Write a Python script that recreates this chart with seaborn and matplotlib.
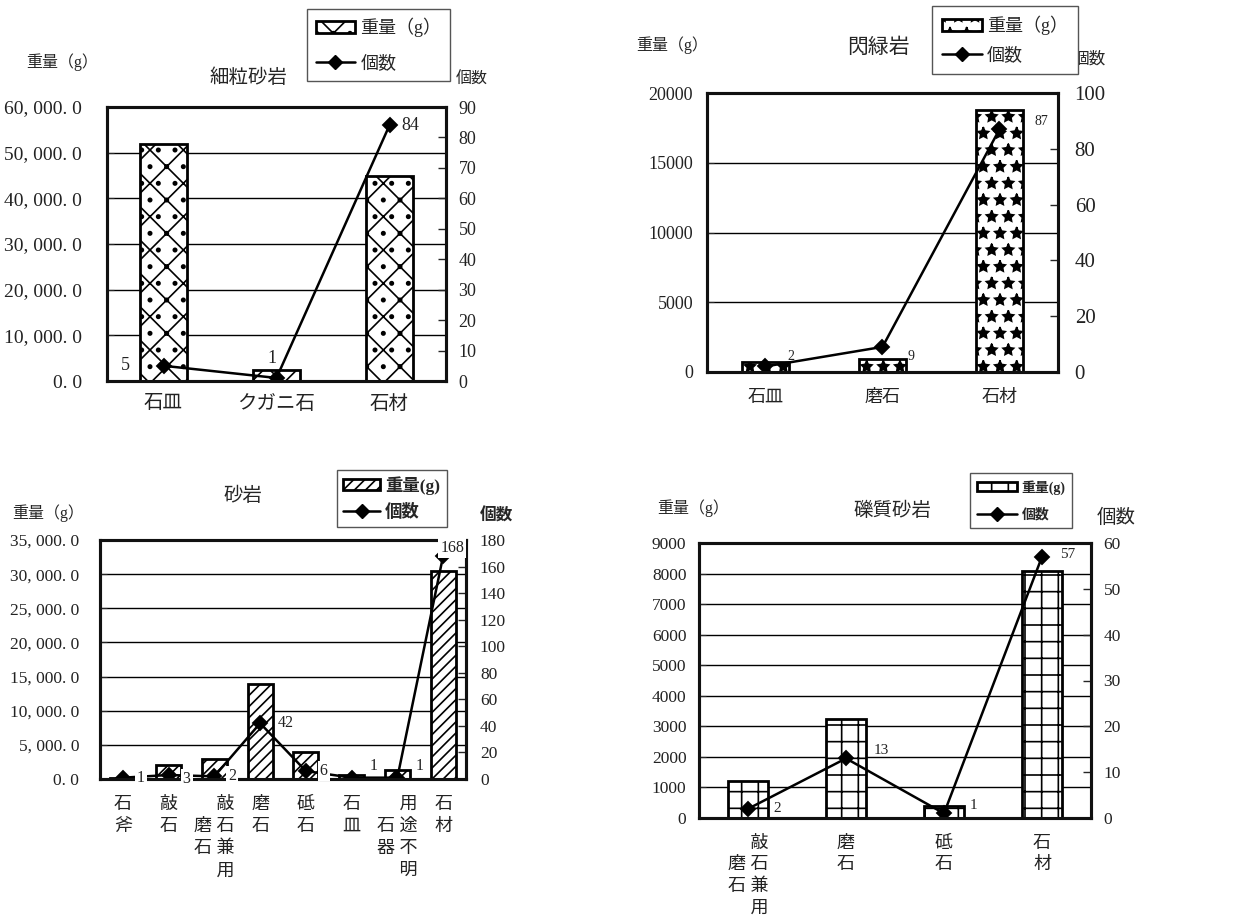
import numpy as np
import matplotlib
matplotlib.use("Agg")
import matplotlib.pyplot as plt
import seaborn as sns
from matplotlib.patches import Patch
from matplotlib.lines import Line2D
from matplotlib.ticker import FuncFormatter, MultipleLocator

sns.set_style("white")
plt.rcParams['font.family'] = ['Liberation Serif', 'Noto Sans CJK JP']
plt.rcParams['hatch.linewidth'] = 1.2

W, H = 1241, 919

# 細粒砂岩
fine_cats = ["石皿", "クガニ石", "石材"]
fine_ticks = ["石皿", "クガニ石", "石材"]
fine_weight = [52000, 2500, 45000]
fine_count = [5, 1, 84]

# 閃緑岩
dio_cats = ["石皿", "磨石", "石材"]
dio_ticks = ["石皿", "磨石", "石材"]
dio_weight = [750, 950, 18800]
dio_count = [2, 9, 87]

# 砂岩
sand_cats = ["石斧", "敲石", "敲石兼用磨石", "磨石", "砥石", "石皿", "用途不明石器", "石材"]
sand_ticks = ["石\n斧", "敲\n石", "　 敲\n磨 石\n石 兼\n　 用", "磨\n石", "砥\n石",
              "石\n皿", "　 用\n石 途\n器 不\n　 明", "石\n材"]
sand_weight = [150, 2100, 2900, 13900, 3900, 600, 1300, 30500]
sand_count = [1, 3, 2, 42, 6, 1, 1, 168]

# 礫質砂岩
peb_cats = ["敲石兼用磨石", "磨石", "砥石", "石材"]
peb_ticks = ["　 敲\n磨 石\n石 兼\n　 用", "磨\n石", "砥\n石", "石\n材"]
peb_weight = [1200, 3230, 380, 8100]
peb_count = [2, 13, 1, 57]

fig = plt.figure(figsize=(W / 100, H / 100), dpi=100)


def box(l, t, r, b):
    return [l / W, 1 - b / H, (r - l) / W, (b - t) / H]


def ftext(x, y, s, **kw):
    fig.text(x / W, 1 - y / H, s, ha="center", va="center", **kw)


def jp_fmt(v, pos):
    return f"{v:,.1f}".replace(",", ", ").replace(".", ". ")


def panel(rect, cats, ticks, weight, count, hatch, width, ymax, ystep, cmax, cstep,
          yfmt, lfs, rfs, xfs, lpad, rpad, xpad, offsets, lab_fs, lab_box=False, xls=1.15):
    ax = fig.add_axes(rect)
    sns.barplot(x=cats, y=weight, ax=ax, color="white", edgecolor="black",
                linewidth=2, width=width, zorder=3, saturation=1)
    for p in ax.patches:
        p.set_hatch(hatch)
    ax.set_ylim(0, ymax)
    ax.yaxis.set_major_locator(MultipleLocator(ystep))
    if yfmt:
        ax.yaxis.set_major_formatter(FuncFormatter(jp_fmt))
    ax.yaxis.grid(True, color="black", linewidth=1.0)
    ax.set_axisbelow(True)
    ax.tick_params(axis="y", direction="in", length=5, labelsize=lfs, pad=lpad, labelcolor="#222")

    ax2 = ax.twinx()
    sns.pointplot(x=cats, y=count, ax=ax2, color="black", markers="D",
                  markersize=7, linewidth=1.8, errorbar=None)
    ax2.set_ylim(0, cmax)
    ax2.yaxis.set_major_locator(MultipleLocator(cstep))
    ax2.tick_params(axis="y", direction="in", length=6, width=1, labelsize=rfs, pad=rpad, labelcolor="#222")
    ax2.set_ylabel("")
    ax.set_ylabel("")
    n = len(cats)
    ax.set_xlim(-0.5, n - 0.5)
    ax.set_xticks(range(n))
    ax.set_xticklabels(ticks, fontsize=xfs, linespacing=xls, color="#222")
    ax.set_xticks(np.arange(n - 1) + 0.5, minor=True)
    ax.tick_params(axis="x", which="major", length=0, pad=xpad)
    ax.tick_params(axis="x", which="minor", direction="in", length=6, width=1)
    for a in (ax, ax2):
        for s in a.spines.values():
            s.set_linewidth(2.2)
            s.set_color("#111")

    for i, (c, (dx, dy, ha)) in enumerate(zip(count, offsets)):
        kw = {}
        if lab_box:
            kw["bbox"] = dict(facecolor="white", edgecolor="none", pad=1.5)
        ax2.annotate(str(c), (i, c), xytext=(dx, dy), textcoords="offset pixels",
                     ha=ha, va="center", fontsize=lab_fs, color="#222",
                     annotation_clip=False, zorder=10, **kw)
    return ax, ax2


def legend(hatch, x, y, fs, label, bold=False, handle_w=2.2, spacing=1.0, bpad=0.5):
    handles = [Patch(facecolor="white", edgecolor="black", hatch=hatch, linewidth=2),
               Line2D([], [], color="black", marker="D", markersize=7, linewidth=1.8)]
    fig.legend(handles, [label, "個数"], loc="upper left",
               bbox_to_anchor=(x / W, 1 - y / H), fancybox=False, edgecolor="#555",
               framealpha=1, borderaxespad=0, handlelength=handle_w, handleheight=0.6,
               labelspacing=spacing, handletextpad=0.3, borderpad=bpad,
               prop={"size": fs, "weight": "bold" if bold else "normal"})


# Panel 1: 細粒砂岩
panel(box(107, 107, 446, 381), fine_cats, fine_ticks, fine_weight, fine_count, "x.",
      0.41, 60000, 10000, 90, 10, True, 14, 13, 14, 18, 9, 10,
      [(-38, 0, "center"), (-5, 19, "center"), (12, 0, "left")], 13)
ftext(248, 78, "細粒砂岩", fontsize=14)
ftext(62, 62, "重量（g）", fontsize=11.5)
ftext(472, 80, "個数", fontsize=11.5)
legend("x.", 307, 9, 13, "重量（g）", handle_w=2.15, spacing=0.95, bpad=0.5)

# Panel 2: 閃緑岩
panel(box(707, 93, 1058, 372), dio_cats, dio_ticks, dio_weight, dio_count, "*",
      0.41, 20000, 5000, 100, 20, False, 13, 15, 13, 10, 12, 12,
      [(22, 10, "left"), (25, -10, "left"), (35, 8, "left")], 10)
ftext(878, 48, "閃緑岩", fontsize=15)
ftext(672, 45, "重量（g）", fontsize=11.5)
ftext(1089, 60, "個数", fontsize=12)
legend("*", 932, 6, 13, "重量（g）", handle_w=2.2, spacing=0.67, bpad=0.55)

# Panel 3: 砂岩
panel(box(100, 540, 466, 779), sand_cats, sand_ticks, sand_weight, sand_count, "///",
      0.55, 35000, 5000, 180, 20, True, 12.5, 12.5, 13, 15, 10, 12,
      [(14, 0, "left"), (14, -4, "left"), (14, 0, "left"), (18, 0, "left"),
       (14, 0, "left"), (18, 12, "left"), (18, 12, "left"), (9, 8, "center")], 11.5,
      lab_box=True, xls=1.4)
ftext(243, 496, "砂岩", fontsize=14)
ftext(48, 513, "重量（g）", fontsize=11.5)
ftext(496, 517, "個数", fontsize=12, fontweight="bold")
legend("///", 337, 470, 12.5, "重量(g)", bold=True, handle_w=2.1, spacing=0.5, bpad=0.37)

# Panel 4: 礫質砂岩
panel(box(699, 543, 1091, 818), peb_cats, peb_ticks, peb_weight, peb_count, "+",
      0.41, 9000, 1000, 60, 10, False, 12.5, 12.5, 13, 9, 9, 12,
      [(25, 0, "left"), (28, 8, "left"), (26, 8, "left"), (18, 2, "left")], 11,
      xls=1.35)
ftext(892, 511, "礫質砂岩", fontsize=14)
ftext(693, 508, "重量（g）", fontsize=11.5)
ftext(1116, 518, "個数", fontsize=14)
legend("+", 970, 473, 10, "重量(g)", bold=True, handle_w=2.9, spacing=0.95, bpad=0.5)

fig.savefig("out.png", dpi=100, facecolor="white")
